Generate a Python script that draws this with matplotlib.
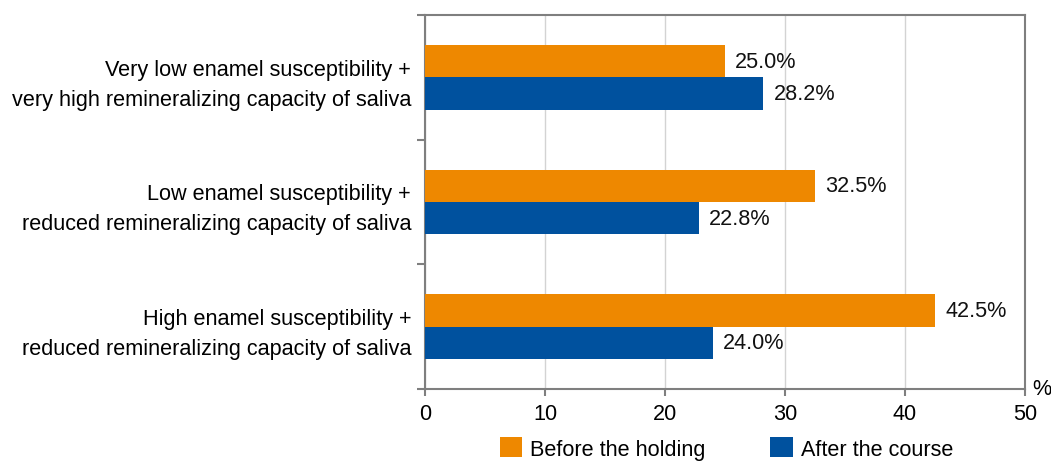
import numpy as np
import matplotlib.pyplot as plt

plt.rcParams['font.family'] = ['Liberation Sans', 'DejaVu Sans']

categories = [
    "Very low enamel susceptibility +\nvery high remineralizing capacity of saliva",
    "Low enamel susceptibility +\nreduced remineralizing capacity of saliva",
    "High enamel susceptibility +\nreduced remineralizing capacity of saliva",
]
before = [25.0, 32.5, 42.5]
after = [28.2, 22.8, 24.0]
series_names = ["Before the holding", "After the course"]
x_ticks = [0, 10, 20, 30, 40, 50]

orange = "#EE8800"
blue = "#00519E"
spine_col = "#7f7f7f"
fs = 15.6

fig = plt.figure(figsize=(10.51, 4.64), dpi=100)
ax = fig.add_axes([0.4044, 0.1595, 0.5709, 0.806])

y = np.arange(len(categories))
h = 0.26
b1 = ax.barh(y - h / 2, before, height=h, color=orange, label=series_names[0], zorder=3)
b2 = ax.barh(y + h / 2, after, height=h, color=blue, label=series_names[1], zorder=3)

for bars, vals in ((b1, before), (b2, after)):
    for bar, v in zip(bars, vals):
        ax.text(v + 0.85, bar.get_y() + bar.get_height() / 2, f"{v:.1f}%",
                va="center", ha="left", fontsize=fs, color="#111111")

ax.set_xlim(0, 50)
ax.set_ylim(len(categories) - 0.5, -0.5)
ax.set_xticks(x_ticks)
ax.set_xticklabels([str(t) for t in x_ticks], fontsize=fs)
ax.tick_params(axis="x", direction="out", length=5, width=1.5, color=spine_col, pad=5)

# boundaries as major ticks, labels on minor ticks
ax.set_yticks(np.arange(-0.5, len(categories), 1.0))
ax.set_yticklabels([])
ax.set_yticks(y, minor=True)
ax.set_yticklabels(categories, minor=True, fontsize=fs, ha="right", linespacing=1.55)
ax.tick_params(axis="y", which="major", direction="out", length=6, width=1.5, color=spine_col)
ax.tick_params(axis="y", which="minor", length=0, pad=10)

ax.grid(axis="x", color="#d3d3d3", linewidth=1, zorder=0)
for s in ax.spines.values():
    s.set_color(spine_col)
    s.set_linewidth(1.5)

ax.text(1.012, 0.0, "%", transform=ax.transAxes, fontsize=fs, ha="left", va="center")

fig.legend(handles=[b1, b2], loc="lower center", bbox_to_anchor=(0.691, -0.035), ncol=2,
           frameon=False, fontsize=fs, handlelength=1.05, handleheight=1.05,
           handletextpad=0.35, columnspacing=3.0)

fig.savefig("out.png", dpi=100)
